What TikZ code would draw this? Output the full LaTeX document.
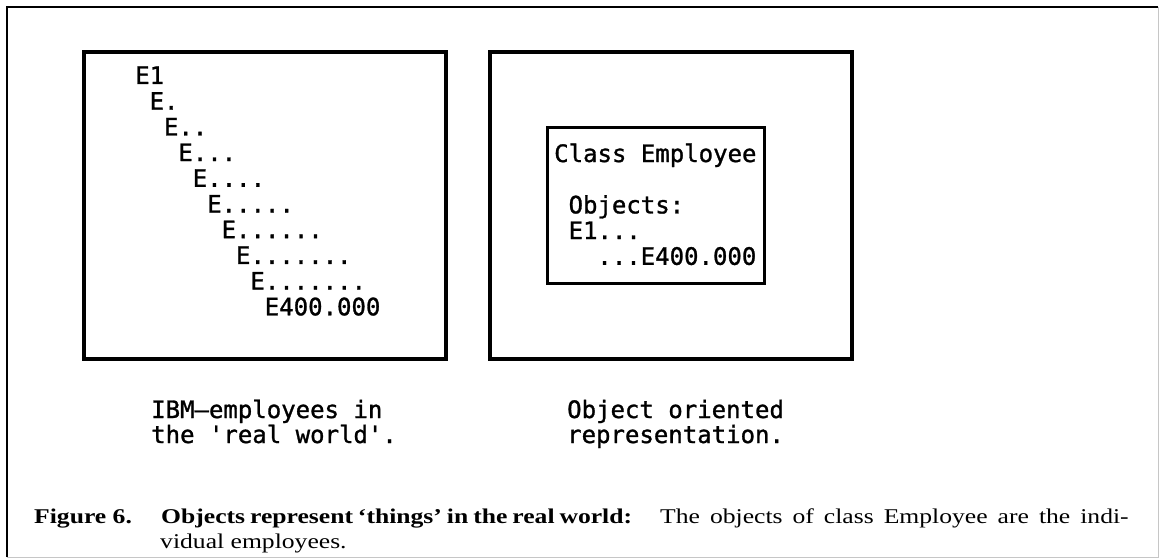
\documentclass[tikz,border=0pt]{standalone}
\usepackage{graphicx}
\usepackage{fontspec}
\setmainfont{Liberation Serif}
\newfontfamily\codefam{DejaVu Sans Mono}[FakeBold=1.2]
\usepackage{tikz}

\newcommand{\codefont}{\fontsize{24}{26}\selectfont\codefam}
\newcommand{\capfont}{\fontsize{21}{25}\selectfont}
% 图注字体横向加宽
\newcommand{\wide}[2]{\scalebox{1.22}[1]{\makebox[#1][s]{#2}}}

\begin{document}
\begin{tikzpicture}[x=1pt, y=-1pt,
		box/.style={line width=3.5pt},
		code/.style={font=\codefont, inner sep=0pt, anchor=base west},
		captext/.style={font=\capfont, inner sep=0pt, anchor=base west}]
		\useasboundingbox (0,0) rectangle (1161,559);
		
		% 外框
		\draw[line width=2.5pt] (7,557) -- (7,7) -- (1158,7);
		\draw[gray!45, line width=1pt] (1158,7) -- (1158,557) -- (7,557);
		
		% 两个大框与类框
		\draw[box] (84,52) rectangle (446,359);
		\draw[box] (490,52) rectangle (852,359);
		\draw[line width=3pt] (547,128) rectangle (764,283);
		
		% 左: 员工 E1 ... E400.000
		\node[code] (e0) at (135,84) {E1};
		\node[code] (e1) at (149.4,109.7) {E.};
		\node[code] (e2) at (163.8,135.4) {E..};
		\node[code] (e3) at (178.2,161.1) {E...};
		\node[code] (e4) at (192.6,186.8) {E....};
		\node[code] (e5) at (207,212.5) {E.....};
		\node[code] (e6) at (221.4,238.2) {E......};
		\node[code] (e7) at (235.8,263.9) {E.......};
		\node[code] (e8) at (250.2,289.6) {E.......};
		\node[code] (e9) at (264.6,315.3) {E400.000};
		
		% 右: Class Employee
		\node[code] (cls) at (554,162) {Class Employee};
		\node[code] (objs) at (568.4,213.4) {Objects:};
		\node[code] (first) at (568.4,239.1) {E1...};
		\node[code] (last) at (597.2,264.8) {...E400.000};
		
		% 下方说明
		\node[code] (realA) at (151,418) {IBM—employees in};
		\node[code] (realB) at (151,443) {the 'real world'.};
		\node[code] (ooA) at (567,418) {Object oriented};
		\node[code] (ooB) at (567,443) {representation.};
		
		% 图注
		\node[captext, font=\capfont\bfseries] (fig) at (34,523)
			{\scalebox{1.22}[1]{Figure 6.}};
		\node[captext, font=\capfont\bfseries] (capA) at (161,523)
			{\wide{386pt}{Objects represent ‘things’ in the real world:}};
		\node[captext] (capB) at (660,523)
			{\wide{384pt}{The objects of class Employee are the indi-}};
		\node[captext] (capC) at (160,548) {\scalebox{1.22}[1]{vidual employees.}};
	\end{tikzpicture}
\end{document}
